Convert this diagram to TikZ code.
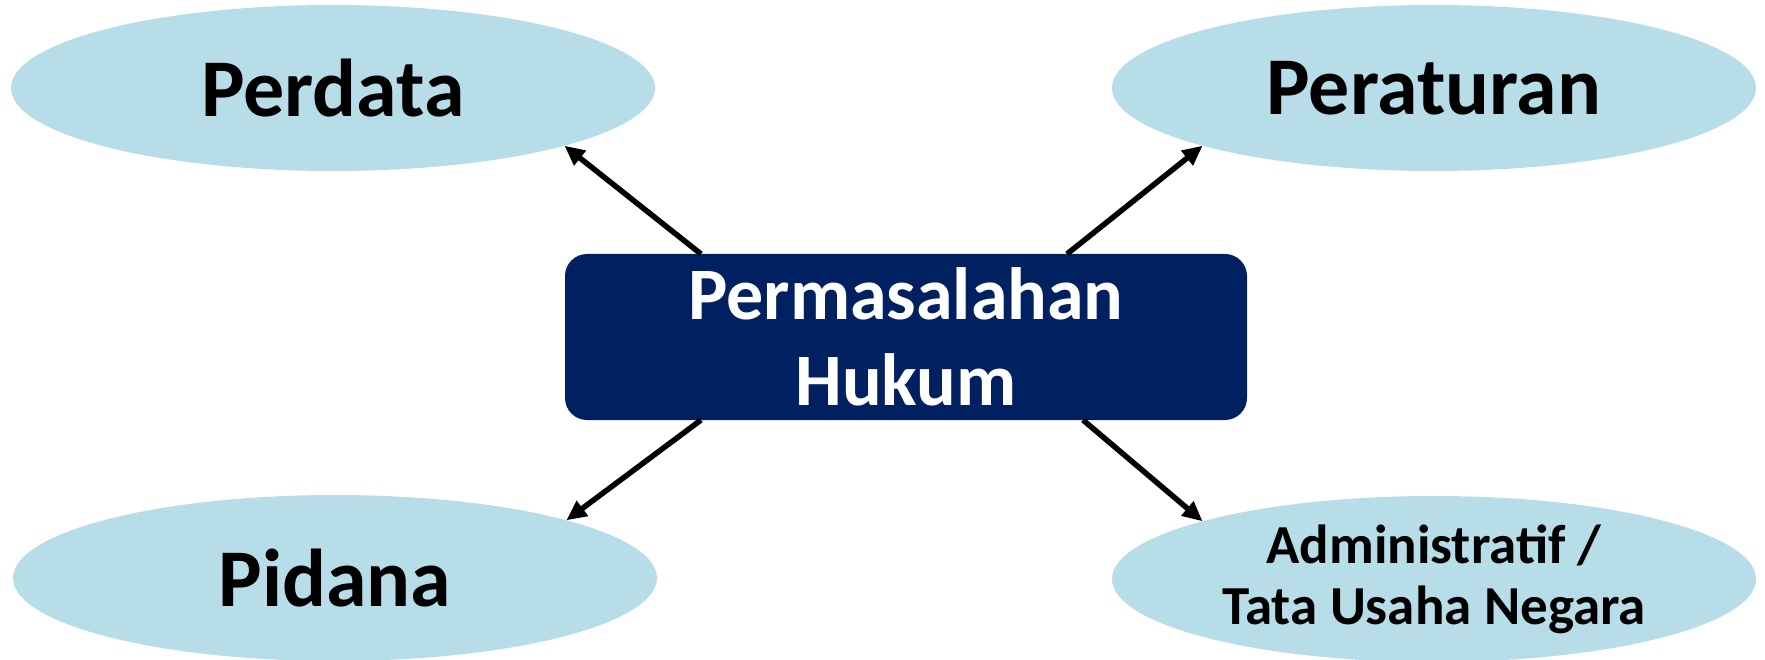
\documentclass[tikz,border=0pt]{standalone}
\usepackage{fontspec}
\setmainfont{Carlito}
\usetikzlibrary{shapes.geometric,arrows.meta}
\definecolor{ellblue}{HTML}{B7DEE8}
\definecolor{navy}{HTML}{002060}
\tikzset{
  ell/.style={ellipse, fill=ellblue, inner sep=0pt, outer sep=0pt,
    minimum width=644pt, minimum height=166pt, align=center, font=\bfseries},
  centerbox/.style={rectangle, rounded corners=22pt, fill=navy, text=white,
    inner sep=0pt, outer sep=0pt, minimum width=682pt, minimum height=166pt,
    align=center, font=\bfseries\fontsize{74}{86}\selectfont},
  arr/.style={line width=5.5pt, -{Triangle[length=20pt,width=18pt]}},
  big/.style={font=\bfseries\fontsize{82}{96}\selectfont},
  small/.style={font=\bfseries\fontsize{55}{61}\selectfont}
}
\begin{document}
\begin{tikzpicture}[x=1pt,y=-1pt]
\useasboundingbox (0,0) rectangle (1765,660);
\node[ell,big] (perdata) at (333,88) {Perdata};
\node[ell,big] (peraturan) at (1434,88) {Peraturan};
\node[ell,big] (pidana) at (335,578) {Pidana};
\node[ell,small] (admin) at (1434,579) {Administratif /\\Tata Usaha Negara};
\node[centerbox] (box) at (906,337) {Permasalahan\\Hukum};
\draw[arr] ([xshift=136pt]box.north west) -- (perdata.-14);
\draw[arr] ([xshift=-180pt]box.north east) -- (peraturan.194);
\draw[arr] ([xshift=136pt]box.south west) -- (pidana.14);
\draw[arr] ([xshift=-164pt]box.south east) -- (admin.166);
\end{tikzpicture}
\end{document}
